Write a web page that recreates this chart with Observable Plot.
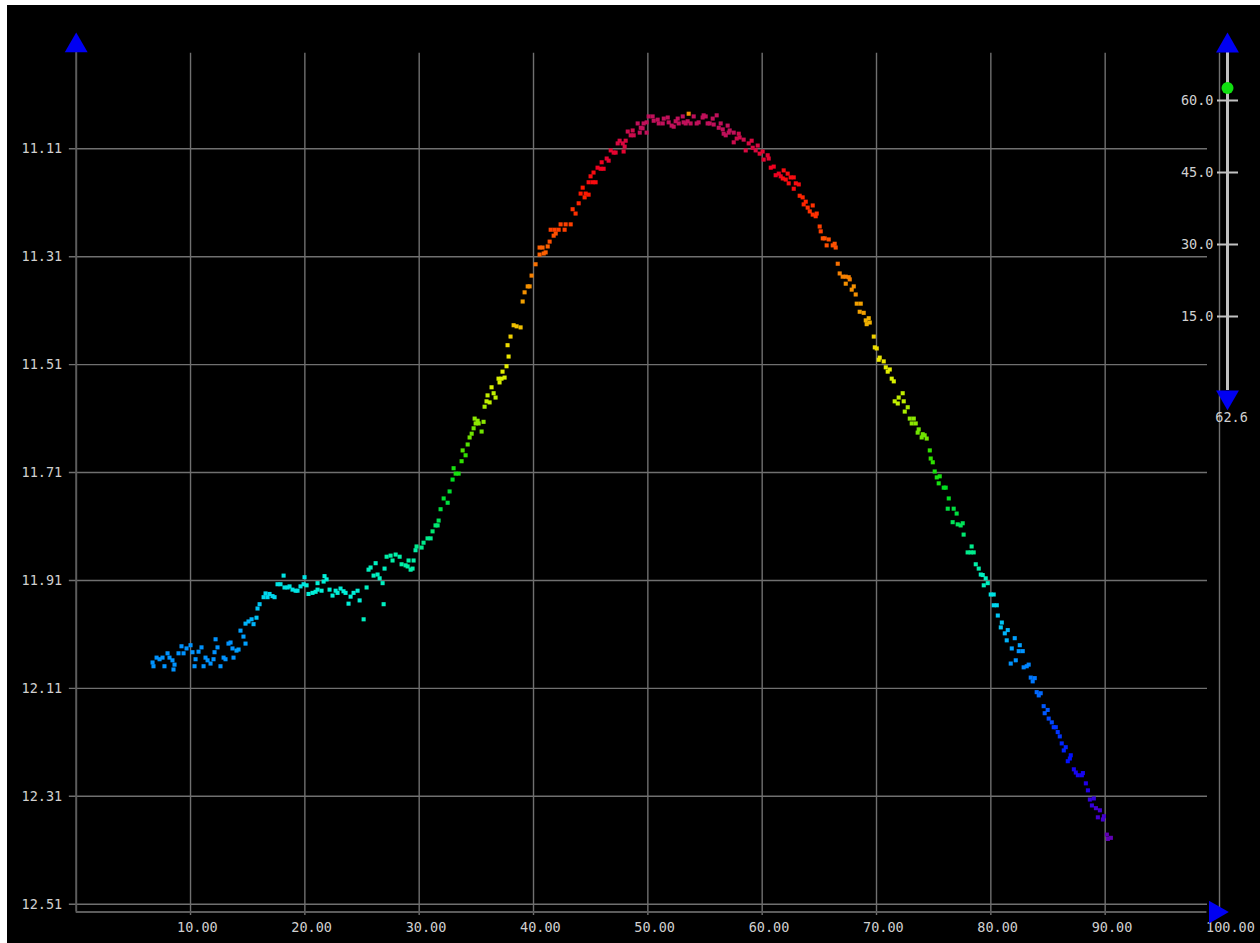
<!DOCTYPE html>
<html>
<head>
<meta charset="utf-8">
<script src="https://cdn.jsdelivr.net/npm/d3@7"></script>
<script src="https://cdn.jsdelivr.net/npm/@observablehq/plot@0.6"></script>
<style>
html, body { margin: 0; padding: 0; background: #fff; overflow: hidden; }
#wrap { position: absolute; left: 7px; top: 5px; width: 1253px; height: 938px; background: #000; }
#wrap svg { position: absolute; left: 0; top: 0; }
</style>
</head>
<body>
<div id="wrap"></div>
<script>
// ---- data ----
const day = [
6.68,6.76,7.03,7.29,7.55,7.72,7.99,8.16,8.42,8.60,
8.51,8.95,9.21,9.39,9.65,10.00,10.17,10.44,10.35,10.70,
10.96,11.14,11.31,11.49,11.75,12.01,12.10,12.19,12.36,12.62,
12.89,13.06,13.32,13.50,13.67,13.76,14.02,14.20,14.37,14.63,
14.81,14.81,15.07,15.34,15.51,15.77,15.86,16.04,16.39,16.56,
16.74,16.91,17.17,17.35,17.61,17.87,18.14,18.22,18.49,18.66,
18.92,19.19,19.36,19.62,19.89,19.97,20.15,20.32,20.67,20.94,
21.11,21.11,21.46,21.64,21.72,21.90,22.16,22.42,22.69,22.86,
23.12,23.38,23.56,23.82,24.00,24.26,24.61,24.79,25.14,25.40,
25.57,25.75,26.01,26.19,26.36,26.54,26.80,26.89,26.97,27.15,
27.50,27.94,27.67,28.29,28.46,28.81,29.07,28.99,29.25,29.51,29.42,
29.77,30.21,29.68,30.38,30.73,31.00,31.17,31.43,31.61,31.70,
31.87,32.14,32.49,32.66,32.92,33.19,33.45,33.01,33.71,34.06,
33.80,34.24,34.41,34.59,34.76,35.46,34.94,35.20,34.85,35.11,
35.63,35.72,35.89,36.16,35.98,36.68,36.51,36.33,37.03,36.94,
37.20,37.47,37.29,37.64,37.82,37.73,37.99,38.26,38.52,38.87,
39.05,39.22,39.49,39.66,39.83,40.18,40.53,40.79,40.53,40.89,
41.06,41.24,41.41,41.76,41.94,
41.50,41.85,42.20,42.37,42.81,43.25,42.72,43.42,43.68,43.95,
44.12,44.56,44.82,44.47,44.30,44.82,45.17,45.43,44.99,45.25,
45.60,45.87,46.13,45.96,46.40,46.57,46.75,47.01,47.18,47.36,
47.53,47.80,47.97,47.88,48.06,48.24,48.50,48.76,48.67,49.11,
49.29,49.38,49.54,49.63,49.89,49.89,50.07,50.42,50.51,50.86,
50.95,51.30,51.39,51.74,51.82,52.08,52.26,52.43,52.61,52.70,
53.05,53.13,53.31,53.57,53.48,53.74,54.01,54.27,54.44,54.79,
54.88,55.06,55.23,55.41,55.76,55.67,56.02,56.20,56.37,56.55,
56.63,56.81,56.98,57.07,57.16,57.51,57.51,57.77,57.95,58.03,
58.38,58.56,58.82,59.08,59.17,59.43,59.61,59.78,60.04,60.13,
60.48,60.57,60.75,61.01,61.18,61.45,61.62,61.88,61.80,62.06,
62.23,62.49,62.76,62.32,62.94,63.20,62.76,
63.28,63.54,63.81,63.63,64.42,63.98,64.16,64.77,64.42,64.68,
65.03,65.12,65.30,65.47,65.82,65.64,66.17,66.34,66.43,66.61,
66.78,67.04,67.31,67.57,67.66,67.31,68.01,67.83,68.18,68.27,
68.62,68.53,68.88,69.06,69.32,69.41,69.14,69.76,69.85,70.02,
70.28,70.19,70.63,70.81,70.98,71.16,71.33,71.51,
72.29,71.94,71.59,71.86,72.38,72.73,72.47,72.91,73.26,73.08,
73.43,73.69,73.60,74.04,74.21,73.95,74.39,74.66,74.74,74.92,
75.09,75.27,75.53,75.44,75.88,76.05,76.32,76.23,76.75,77.01,
76.66,77.10,77.54,77.36,77.62,78.32,77.97,78.24,78.50,
78.68,78.94,79.12,79.29,79.55,79.73,79.38,79.99,80.25,80.25,
80.52,80.61,80.96,80.87,81.22,81.48,81.39,82.09,82.53,81.83,
82.44,82.79,82.18,81.74,82.87,83.14,83.31,83.49,83.84,83.66,
84.01,84.36,84.19,84.62,84.97,84.71,85.06,85.33,85.50,85.68,
85.85,86.03,86.20,86.55,86.38,86.99,86.91,86.73,87.26,87.43,
87.61,87.96,88.05,88.31,88.49,88.66,89.01,88.84,89.19,89.54,
89.36,89.89,89.80,90.15,90.50,90.24
];

const mag = [
12.062,12.069,12.053,12.056,12.053,12.069,12.045,12.053,12.058,12.066,
12.075,12.045,12.032,12.045,12.036,12.030,12.043,12.056,12.069,12.042,
12.034,12.069,12.053,12.058,12.064,12.056,12.043,12.019,12.034,12.069,
12.053,12.056,12.027,12.025,12.036,12.053,12.040,12.038,12.003,12.014,
12.027,11.990,11.986,11.982,11.991,11.979,11.962,11.954,11.941,11.934,
11.941,11.935,11.939,11.941,11.917,11.917,11.901,11.923,11.923,11.921,
11.927,11.929,11.929,11.921,11.917,11.904,11.919,11.935,11.933,11.931,
11.927,11.915,11.929,11.912,11.902,11.908,11.927,11.938,11.929,11.933,
11.925,11.930,11.933,11.953,11.940,11.933,11.929,11.947,11.982,11.923,
11.890,11.886,11.901,11.878,11.899,11.906,11.915,11.954,11.888,11.866,
11.864,11.862,11.873,11.866,11.880,11.882,11.873,11.884,11.890,11.873,11.888,
11.847,11.849,11.854,11.840,11.832,11.832,11.819,11.808,11.808,11.799,
11.778,11.758,11.766,11.745,11.723,11.712,11.712,11.702,11.689,11.678,
11.669,11.658,11.645,11.638,11.628,11.634,11.619,11.619,11.610,11.614,
11.616,11.588,11.578,11.580,11.567,11.571,11.563,11.552,11.543,11.536,
11.536,11.534,11.523,11.513,11.495,11.474,11.458,11.437,11.439,11.441,
11.393,11.376,11.365,11.365,11.345,11.324,11.293,11.293,11.306,11.304,
11.302,11.291,11.282,11.271,11.267,
11.260,11.260,11.260,11.250,11.250,11.250,11.260,11.222,11.230,11.211,
11.193,11.193,11.195,11.200,11.182,11.172,11.172,11.172,11.161,11.154,
11.145,11.147,11.147,11.135,11.128,11.132,11.113,11.117,11.117,11.100,
11.095,11.100,11.106,11.115,11.095,11.078,11.085,11.085,11.076,11.063,
11.080,11.071,11.072,11.063,11.061,11.080,11.050,11.050,11.058,11.056,
11.063,11.063,11.054,11.052,11.061,11.067,11.069,11.059,11.054,11.063,
11.050,11.061,11.063,11.045,11.059,11.063,11.050,11.063,11.061,11.052,
11.048,11.050,11.063,11.063,11.065,11.054,11.048,11.071,11.063,11.074,
11.082,11.085,11.067,11.080,11.076,11.080,11.098,11.091,11.082,11.089,
11.093,11.113,11.100,11.095,11.108,11.113,11.104,11.119,11.115,11.130,
11.122,11.128,11.145,11.143,11.159,11.156,11.161,11.150,11.165,11.167,
11.156,11.163,11.163,11.174,11.174,11.176,11.184,
11.197,11.200,11.208,11.213,11.215,11.219,11.226,11.230,11.232,11.235,
11.254,11.263,11.276,11.276,11.278,11.289,11.289,11.286,11.293,11.323,
11.341,11.347,11.347,11.348,11.352,11.360,11.365,11.371,11.380,11.397,
11.397,11.412,11.414,11.428,11.424,11.432,11.435,11.458,11.478,11.480,
11.497,11.501,11.504,11.515,11.523,11.519,11.536,11.541,
11.563,11.571,11.578,11.582,11.578,11.589,11.597,11.610,11.610,11.619,
11.619,11.630,11.636,11.639,11.641,11.645,11.647,11.669,11.684,11.691,
11.708,11.719,11.717,11.730,11.738,11.738,11.758,11.777,11.777,11.786,
11.802,11.806,11.804,11.808,11.825,11.847,11.858,11.858,11.858,
11.880,11.888,11.899,11.900,11.906,11.915,11.919,11.936,11.936,11.956,
11.956,11.975,11.988,11.997,12.008,12.002,12.021,12.017,12.030,12.036,
12.041,12.041,12.058,12.064,12.071,12.069,12.066,12.090,12.091,12.097,
12.117,12.119,12.123,12.143,12.150,12.156,12.166,12.173,12.182,12.182,
12.191,12.199,12.212,12.219,12.225,12.234,12.240,12.245,12.260,12.266,
12.271,12.271,12.267,12.286,12.299,12.316,12.314,12.327,12.332,12.336,
12.349,12.347,12.353,12.381,12.387,12.389
];

const alt = [
17,17,17,17,17,17,17,17,17,17,
17,17,17,17,17,17,17,17,17,17,
17,17,17,17,17,17,17,17,17,17,
17,17,17,17,17,17,18,18,18,18,
18,19,19,19,19,20,20,20,21,21,
21,21,21,21,22,22,22,22,22,22,
22,22,22,22,22,22,23,23,23,23,
23,23,23,23,23,23,23,23,23,23,
23,23,23,23,23,23,23,23,24,24,
24,24,24,24,24,24,24,24,24,25,
25,25,25,25,25,25,25,25,25,25,25,
26,26,25,26,26,26,27,27,27,28,
29,30,29,30,31,32,32,32,33,33,
34,34,35,35,35,35,36,36,36,36,
36,37,38,38,38,38,38,39,39,39,
39,39,40,40,41,42,43,44,44,44,
46,47,47,47,48,49,50,50,50,50,
50,50,51,51,51,
52,52,52,52,52,52,52,53,53,54,
55,55,55,54,55,56,56,56,56,56,
57,57,57,57,58,58,58,58,58,59,
59,59,59,58,59,60,60,60,60,61,
61,61,61,61,61,61,61,61,61,61,
61,61,61,61,61,61,61,61,61,61,
61,61,61,47,61,61,61,61,61,61,
61,61,61,61,61,61,61,61,61,61,
61,61,61,61,61,61,60,60,60,60,
60,59,59,59,59,59,59,58,58,58,
58,58,57,57,57,57,57,56,56,56,
56,56,56,56,56,56,56,
54,54,54,54,53,53,53,53,53,53,
52,52,51,51,51,51,51,51,51,49,
48,48,48,48,48,47,47,47,47,46,
46,46,46,45,45,45,45,43,42,42,
41,41,41,40,40,40,39,39,
38,38,38,38,38,37,37,36,36,36,
36,35,35,35,35,35,35,33,33,33,
32,32,32,32,31,31,31,29,29,29,
28,28,28,28,27,26,26,26,26,
25,25,24,24,24,24,24,22,22,21,
21,20,20,20,19,19,19,18,18,18,
17,17,17,17,16,16,16,15,15,15,
14,14,14,13,13,13,12,12,11,11,
11,11,10,10,10,9,9,9,7,7,
7,7,7,6,6,5,5,5,4,4,
4,4,4,2,2,2
];

const xTicks = [10, 20, 30, 40, 50, 60, 70, 80, 90, 100];
const yTicks = [11.11, 11.31, 11.51, 11.71, 11.91, 12.11, 12.31, 12.51];
const legendTicks = [15, 30, 45, 60];
const colorMax = 62.6;

// ---- styles ----
const paletteStops = [0,3,6,9,12,15,18,21,23,25,27,29,31,33,35,37,39,41,43,45,47,49,51,53,55,57,59,61,63];
const paletteColors = ["#7a0098","#5500c0","#2200e8","#0010ff","#0048ff","#0078ff","#00a0ff","#00d8f0","#00f0d8","#00f0a8","#00e870","#00e040","#00e020","#30e000","#70e400","#a8ec00","#d8f000","#ece800","#f0d000","#f0b000","#f49000","#f87000","#ff5000","#ff3000","#ff1800","#f00020","#d80840","#c0105a","#b01060"];
const gridCol = "#707070";
const axisCol = "#5c5c5c";
const blue = "#0000f2";
const textCol = "#d0d0d0";
const font = {background: "transparent", color: textCol, fontFamily: "'DejaVu Sans Mono', monospace", fontSize: "13.5px"};

const yTop = 10.928, yBottom = 12.5246;

const points = day.map((d, i) => ({day: d, mag: mag[i], alt: alt[i]}));

const main = Plot.plot({
  width: 1253, height: 938,
  marginLeft: 68.7, marginRight: 41, marginTop: 45, marginBottom: 31.4,
  x: {domain: [0, 100], range: [68.7, 1212]},
  y: {domain: [11.11, 12.51], range: [143.3, 898.7]},
  color: {type: "linear", domain: paletteStops, range: paletteColors, interpolate: "rgb"},
  style: font,
  marks: [
    Plot.ruleY(yTicks, {x1: -0.6, x2: 98.95, stroke: gridCol, strokeWidth: 1.4}),
    Plot.ruleX(xTicks, {y1: 10.933, y2: 12.531, stroke: gridCol, strokeWidth: 1.4}),
    Plot.ruleX([0], {y1: yTop, y2: yBottom, stroke: axisCol, strokeWidth: 2}),
    Plot.ruleY([yBottom], {x1: 0, x2: 98.9, stroke: axisCol, strokeWidth: 2}),
    Plot.axisY({ticks: yTicks, tickFormat: d => d.toFixed(2), tickSize: 0, tickPadding: 14, label: null}),
    Plot.axisX({ticks: xTicks, tickFormat: d => d.toFixed(2), tickSize: 0, tickPadding: 10, textAnchor: "start", dx: -13.5, label: null}),
    Plot.dot(points, {x: "day", y: "mag", fill: "alt", symbol: "square", r: 2.3}),
    Plot.dot([{x: 0, y: 10.919}], {x: "x", y: "y", symbol: "triangle", r: 8.5, fill: blue}),
    Plot.dot([{x: 99.66, y: yBottom}], {x: "x", y: "y", symbol: "triangle", r: 8.5, rotate: 90, fill: blue})
  ]
});

const legend = Plot.plot({
  width: 1253, height: 938,
  marginLeft: 1220, marginRight: 13, marginTop: 0, marginBottom: 0,
  x: {domain: [0, 1], range: [1220, 1240]},
  y: {domain: [0, 60], range: [383, 95]},
  style: font,
  marks: [
    Plot.ruleX([0], {y1: -0.4, y2: 70, stroke: "#c2c2c2", strokeWidth: 3}),
    Plot.ruleY(legendTicks, {x1: -0.5, x2: 0.55, stroke: "#c2c2c2", strokeWidth: 2}),
    Plot.axisY({ticks: legendTicks, tickFormat: d => d.toFixed(1), tickSize: 0, tickPadding: 14, label: null}),
    Plot.dot([colorMax], {x: () => 0, y: d => d, r: 6, fill: "#10e010"}),
    Plot.dot([71.4], {x: () => 0, y: d => d, symbol: "triangle", r: 8.5, fill: blue}),
    Plot.dot([-1.8], {x: () => 0, y: d => d, symbol: "triangle", r: 8.5, rotate: 180, fill: blue}),
    Plot.text([colorMax], {x: () => 0.2, y: () => -6.04, text: d => d.toFixed(1), fill: textCol})
  ]
});

const wrap = document.getElementById("wrap");
wrap.appendChild(main);
wrap.appendChild(legend);
</script>
</body>
</html>
